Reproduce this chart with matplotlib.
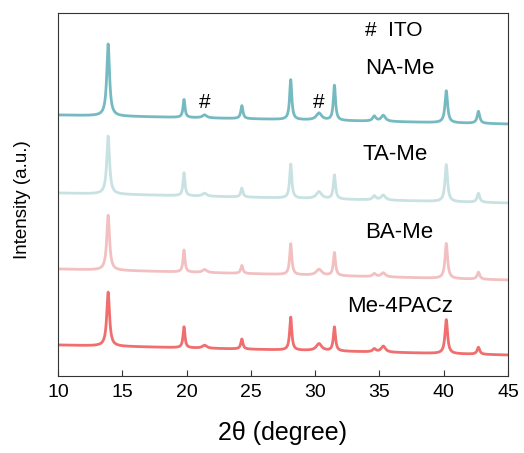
import numpy as np
import matplotlib
matplotlib.use('Agg')
import matplotlib.pyplot as plt

plt.rcParams['font.family'] = ['Liberation Sans', 'DejaVu Sans']

# peak table (2theta positions and widths)
peak_pos = [13.9, 19.8, 21.4, 24.3, 28.1, 30.3, 31.5, 34.6, 35.3, 40.2, 42.7]
peak_hwhm = [0.13, 0.09, 0.2, 0.1, 0.1, 0.25, 0.1, 0.15, 0.2, 0.12, 0.12]

# peak heights for each sample (arbitrary units)
h_na = [72, 18, 3, 13, 40, 7, 35, 5, 6, 32, 12]
h_ta = [58, 23, 3, 9, 34, 7, 24, 4, 5, 37, 9]
h_ba = [55, 22, 3, 8, 31, 6, 23, 3, 4, 35, 7]
h_me = [54, 21, 3, 10, 33, 7, 24, 3, 6, 34, 7]

# baseline at 10 deg and at 45 deg (offset stacking)
base_na = [261, 252]
base_ta = [183, 173]
base_ba = [107, 96]
base_me = [31, 21]

names = ['NA-Me', 'TA-Me', 'BA-Me', 'Me-4PACz']
colors = ['#76bac1', '#c8e1e2', '#f2c0c0', '#f06e6e']


def pattern(x, heights, base):
    y = base[0] + (base[1] - base[0]) * (x - 10) / 35.0
    for p, w, h in zip(peak_pos, peak_hwhm, heights):
        y = y + h / (1 + ((x - p) / w) ** 2)
    return y


x = np.linspace(10, 45, 3500)

fig = plt.figure(figsize=(5.24, 4.53), dpi=100)
ax = fig.add_axes([58 / 524, 1 - 376 / 453, 450 / 524, 363 / 453])

for h, b, c in zip([h_na, h_ta, h_ba, h_me], [base_na, base_ta, base_ba, base_me], colors):
    ax.plot(x, pattern(x, h, b), color=c, lw=2)

ax.set_xlim(10, 45)
ax.set_ylim(0, 363)
ax.set_xticks(range(10, 46, 5))
ax.set_yticks([])
for s in ax.spines.values():
    s.set_color('#333333')
ax.tick_params(axis='x', direction='in', labelsize=14, length=4, pad=6, color='#333333')
ax.set_xlabel('2θ (degree)', fontsize=18)
ax.xaxis.set_label_coords(0.5, -0.125)
ax.set_ylabel('Intensity (a.u.)', fontsize=13.5)
ax.yaxis.set_label_coords(-0.06, 0.485)

ax.text(33.9, 345, '#  ITO', fontsize=15, va='center')
ax.text(33.9, 308, 'NA-Me', fontsize=16, va='center')
ax.text(33.7, 221, 'TA-Me', fontsize=16, va='center')
ax.text(33.9, 144, 'BA-Me', fontsize=16, va='center')
ax.text(32.5, 69, 'Me-4PACz', fontsize=16, va='center')
ax.text(21.4, 273, '#', fontsize=15, ha='center', va='center')
ax.text(30.3, 273, '#', fontsize=15, ha='center', va='center')

fig.savefig('out.png', dpi=100)
